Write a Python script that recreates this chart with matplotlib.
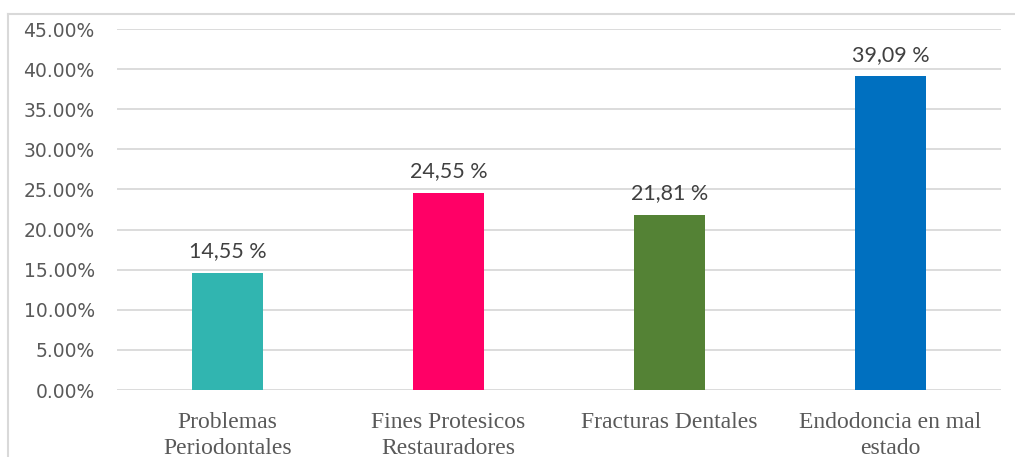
"""
Bar chart of reasons for dental extraction (percent of cases).
"""

import matplotlib.pyplot as plt
from matplotlib.ticker import FuncFormatter
from matplotlib.lines import Line2D

# data
categorias = ['Problemas\nPeriodontales', 'Fines Protesicos\nRestauradores',
              'Fracturas Dentales', 'Endodoncia en mal\nestado']
valores = [0.1455, 0.2455, 0.2181, 0.3909]
etiquetas = ['14,55 %', '24,55 %', '21,81 %', '39,09 %']
colores = ['#31B5B0', '#FF0066', '#548235', '#0070C0']

fig = plt.figure(figsize=(10.15, 4.57), dpi=100)
ax = fig.add_axes([0.1153, 0.1466, 0.8709, 0.7899])

x = range(len(categorias))
bars = ax.bar(x, valores, width=0.317, color=colores, zorder=3)

# value labels above the bars
for b, txt in zip(bars, etiquetas):
    ax.annotate(txt, (b.get_x() + b.get_width() / 2, b.get_height()),
                xytext=(0, 8.5), textcoords='offset points',
                ha='center', va='bottom', fontsize=15.5,
                family='Lato', color='#404040')

ax.set_xlim(-0.5, 3.5)
ax.set_ylim(0, 0.45)
ax.set_yticks([i * 0.05 for i in range(10)])
ax.yaxis.set_major_formatter(FuncFormatter(lambda v, p: f'{v * 100:.2f}%'))
ax.set_xticks(list(x))
ax.set_xticklabels(categorias, family='Liberation Serif', fontsize=17,
                   color='#595959', linespacing=1.3, multialignment='center')

ax.tick_params(axis='y', length=0, pad=16, labelsize=13.5, labelcolor='#595959')
ax.tick_params(axis='x', length=0, pad=16)
ax.grid(axis='y', color='#D9D9D9', linewidth=1.3, zorder=0)
for s in ax.spines.values():
    s.set_visible(False)

# outer chart frame (left and top edges visible)
fig.add_artist(Line2D([8 / 1015, 8 / 1015], [0, 1 - 14 / 457],
                      transform=fig.transFigure, color='#D9D9D9', linewidth=1.5))
fig.add_artist(Line2D([8 / 1015, 1], [1 - 14 / 457, 1 - 14 / 457],
                      transform=fig.transFigure, color='#D9D9D9', linewidth=1.5))

fig.savefig('out.png', dpi=100)
